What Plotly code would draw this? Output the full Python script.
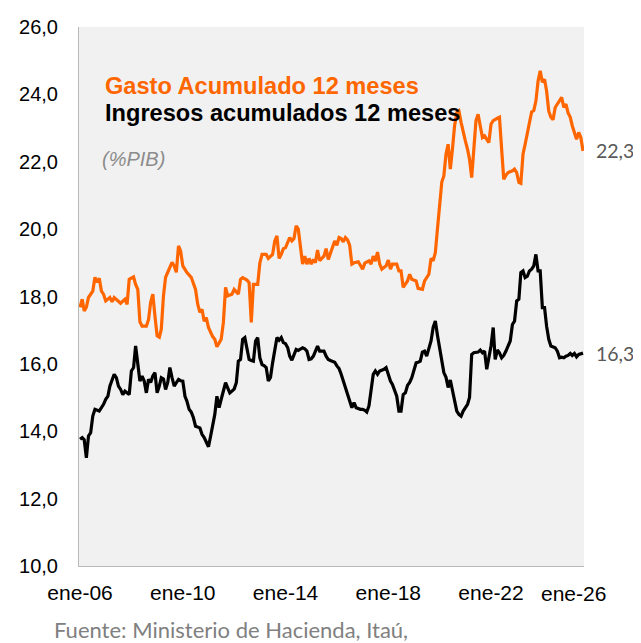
import plotly.graph_objects as go

# Meses transcurridos desde ene-06 (0 = enero 2006) y valores en % del PIB
gasto_mes = [0, 1, 2, 3, 4, 6, 7, 8, 9, 10, 11, 12, 14, 15, 16, 18, 19, 21, 22, 23, 25, 26, 27, 28, 29,
             31, 32, 33, 34, 35, 36, 37, 38, 39, 40, 41, 43, 44, 45, 46, 47, 48, 50, 52, 54, 55, 56, 57,
             58, 59, 60, 62, 63, 64, 66, 67, 68, 69, 71, 72, 74, 75, 76, 78, 79, 80, 81, 83, 84, 85, 87,
             88, 90, 91, 92, 93, 94, 95, 96, 98, 99, 100, 101, 102, 103, 104, 105, 106, 107, 108, 109,
             110, 111, 112, 114, 115, 116, 118, 119, 120, 121, 122, 123, 124, 125, 126, 127, 128, 130,
             132, 133, 135, 136, 137, 138, 139, 140, 141, 143, 144, 145, 146, 148, 149, 150, 151, 153,
             154, 155, 157, 158, 160, 161, 163, 164, 165, 166, 167, 168, 169, 170, 171, 172, 173, 174,
             175, 176, 177, 178, 179, 180, 181, 182, 183, 184, 185, 186, 187, 188, 189, 190, 191, 192,
             193, 195, 196, 197, 198, 199, 200, 202, 203, 204, 205, 206, 207, 208, 209, 210, 211, 212,
             213, 214, 215, 216, 217, 218, 219, 220, 221, 222, 223, 225, 226, 227, 228, 229, 230, 231,
             232, 233, 234, 235]
gasto_val = [17.68, 17.92, 17.57, 17.68, 17.97, 18.16, 18.57, 18.42, 18.54, 18.16, 18.07, 17.87, 17.97,
             17.84, 17.97, 17.87, 17.80, 17.92, 17.77, 18.51, 18.58, 18.36, 18.21, 17.25, 17.12, 17.12,
             17.32, 17.83, 18.07, 17.42, 16.83, 16.79, 17.03, 18.02, 18.57, 18.72, 19.01, 18.91, 18.72,
             19.50, 19.35, 18.91, 18.71, 18.57, 18.21, 17.77, 17.53, 17.62, 17.27, 17.37, 17.08, 16.81,
             16.73, 16.51, 16.73, 17.23, 18.27, 18.02, 18.07, 18.21, 18.07, 18.51, 18.56, 18.49, 18.41,
             17.23, 18.36, 18.36, 19.00, 19.25, 19.25, 19.13, 19.25, 19.65, 19.80, 19.13, 19.25, 19.42,
             19.45, 19.75, 19.65, 19.72, 20.10, 20.00, 19.45, 18.96, 19.20, 18.96, 19.13, 18.96, 19.10,
             19.00, 19.38, 19.06, 19.20, 19.42, 19.10, 19.50, 19.65, 19.52, 19.75, 19.72, 19.62, 19.75,
             19.68, 19.52, 18.96, 19.00, 19.03, 18.81, 18.99, 19.06, 18.96, 19.20, 19.05, 19.32, 18.96,
             18.81, 18.91, 19.08, 18.81, 18.96, 18.96, 18.76, 18.76, 18.27, 18.46, 18.66, 18.51, 18.46,
             18.24, 18.21, 18.46, 18.66, 19.13, 19.06, 19.30, 20.00, 20.80, 21.40, 21.58, 22.23, 22.52,
             21.78, 22.37, 23.07, 23.46, 23.51, 23.17, 22.87, 22.62, 22.37, 22.08, 21.53, 22.37, 23.22,
             23.41, 23.07, 22.72, 22.77, 22.67, 22.57, 23.12, 23.22, 23.29, 23.32, 22.37, 21.48, 21.60,
             21.68, 21.73, 21.78, 21.68, 21.39, 21.36, 22.23, 22.52, 22.82, 23.22, 23.48, 23.52, 23.80,
             24.40, 24.70, 24.36, 24.45, 24.10, 23.50, 23.32, 23.25, 23.61, 23.71, 23.91, 23.61, 23.71,
             23.45, 23.32, 23.07, 22.82, 22.67, 22.87, 22.72, 22.32]

ingresos_mes = [0, 1, 2, 3, 4, 5, 6, 7, 9, 11, 12, 13, 14, 16, 17, 18, 19, 20, 21, 22, 23, 24, 25, 26,
                27, 28, 29, 30, 31, 32, 33, 34, 35, 36, 37, 38, 39, 40, 41, 42, 43, 44, 45, 46, 47, 48,
                49, 50, 51, 52, 53, 54, 56, 57, 58, 59, 60, 61, 62, 63, 64, 65, 66, 67, 68, 69, 70, 71,
                72, 73, 74, 75, 76, 77, 78, 79, 80, 81, 82, 83, 84, 85, 86, 87, 88, 89, 90, 91, 92, 93,
                94, 95, 96, 97, 98, 99, 100, 101, 102, 103, 104, 105, 106, 107, 108, 109, 110, 111, 112,
                114, 115, 116, 117, 118, 119, 120, 121, 122, 123, 124, 125, 126, 127, 128, 129, 131, 132,
                133, 134, 135, 136, 137, 138, 139, 140, 142, 143, 144, 145, 146, 147, 148, 149, 150, 151,
                152, 153, 154, 155, 156, 157, 158, 159, 160, 161, 162, 163, 164, 165, 166, 167, 168, 169,
                170, 171, 172, 173, 174, 175, 176, 177, 178, 179, 180, 181, 182, 183, 184, 185, 186, 187,
                188, 189, 190, 191, 192, 193, 194, 195, 196, 197, 198, 199, 200, 201, 202, 203, 204, 205,
                206, 207, 208, 209, 210, 211, 212, 213, 214, 215, 216, 217, 218, 219, 220, 221, 222, 223,
                224, 225, 226, 227, 228, 229, 230, 231, 232, 233, 234, 235]
ingresos_val = [13.76, 13.81, 13.75, 13.21, 13.86, 13.96, 14.45, 14.65, 14.60, 14.80, 14.95, 15.04, 15.34,
                15.69, 15.59, 15.34, 15.24, 15.09, 15.19, 15.15, 15.09, 15.79, 15.89, 16.53, 15.94, 15.49,
                15.64, 15.49, 15.14, 15.54, 15.45, 15.64, 15.74, 15.14, 15.34, 15.59, 15.55, 15.24, 15.45,
                15.89, 15.59, 15.34, 15.44, 15.54, 15.50, 15.49, 15.04, 14.89, 14.65, 14.57, 14.40, 14.15,
                14.10, 13.91, 13.81, 13.66, 13.54, 13.86, 14.20, 14.50, 15.04, 14.70, 14.95, 15.19, 15.44,
                15.29, 15.14, 15.19, 15.25, 15.44, 16.08, 16.13, 16.73, 16.78, 16.48, 16.13, 16.10, 16.08,
                16.68, 16.78, 16.18, 15.98, 15.95, 15.89, 15.49, 15.60, 16.03, 16.38, 16.78, 16.70, 16.78,
                16.63, 16.60, 16.48, 16.23, 16.11, 16.28, 16.43, 16.40, 16.43, 16.48, 16.45, 16.38, 16.13,
                16.15, 16.23, 16.38, 16.53, 16.38, 16.38, 16.23, 16.13, 16.10, 16.08, 16.05, 15.94, 15.86,
                15.70, 15.49, 15.34, 15.14, 14.95, 14.70, 14.85, 14.70, 14.65, 14.65, 14.62, 14.57, 14.75,
                15.24, 15.69, 15.79, 15.69, 15.79, 15.84, 15.89, 15.69, 15.49, 15.39, 15.20, 15.04, 14.60,
                14.60, 15.09, 15.14, 15.36, 15.45, 15.59, 15.84, 16.03, 16.05, 16.08, 16.35, 16.38, 16.23,
                16.43, 16.68, 17.08, 17.27, 16.85, 16.43, 16.03, 15.74, 15.60, 15.30, 15.52, 15.24, 14.95,
                14.60, 14.50, 14.45, 14.60, 14.70, 14.80, 15.00, 16.28, 16.33, 16.35, 16.35, 16.41, 16.33,
                16.38, 15.84, 16.18, 16.53, 17.08, 16.13, 16.41, 16.33, 16.18, 16.25, 16.38, 16.53, 16.68,
                17.17, 17.27, 17.87, 17.92, 18.71, 18.76, 18.56, 18.60, 18.76, 18.81, 18.91, 19.25, 18.76,
                18.76, 17.67, 17.67, 17.12, 16.73, 16.53, 16.50, 16.48, 16.38, 16.18, 16.20, 16.18, 16.23,
                16.25, 16.31, 16.25, 16.31, 16.21, 16.28, 16.31, 16.32]

tick_fechas = ["2006-01-01", "2010-01-01", "2014-01-01", "2018-01-01", "2022-01-01"]
tick_textos = ["ene-06", "ene-10", "ene-14", "ene-18", "ene-22"]
etiqueta_ultima = "ene-26"

titulo_gasto = "Gasto Acumulado 12 meses"
titulo_ingresos = "Ingresos acumulados 12 meses"
unidad = "(%PIB)"
fuente = "Fuente: Ministerio de Hacienda, Itaú,"

NARANJA = "#FF6600"


def a_fecha(m):
    return f"{2006 + m // 12}-{m % 12 + 1:02d}-01"


def fmt(v):
    return f"{v:.1f}".replace(".", ",")


gasto_x = [a_fecha(m) for m in gasto_mes]
ingresos_x = [a_fecha(m) for m in ingresos_mes]

fig = go.Figure()
fig.add_trace(go.Scatter(x=gasto_x, y=gasto_val, mode="lines",
                         line=dict(color=NARANJA, width=3.2), name=titulo_gasto))
fig.add_trace(go.Scatter(x=ingresos_x, y=ingresos_val, mode="lines",
                         line=dict(color="#000000", width=3.2), name=titulo_ingresos))

AX_FONT = "Liberation Sans, Arial, sans-serif"

# The page body adds an 8px offset, so the figure is 8px smaller on each axis.
fig.update_layout(
    width=633, height=635,
    margin=dict(l=71, r=57, t=19, b=77, autoexpand=False),
    paper_bgcolor="white", plot_bgcolor="#f1f1f1",
    showlegend=False, separators=",.",
    xaxis=dict(type="date", range=["2005-12-17", "2025-08-15"], automargin=False,
               tickvals=tick_fechas, ticktext=tick_textos,
               showgrid=False, zeroline=False, showline=True, linecolor="#b9b9b9", linewidth=1,
               ticks="outside", ticklen=8, tickcolor="rgba(0,0,0,0)",
               tickfont=dict(family=AX_FONT, size=21, color="#000000")),
    yaxis=dict(range=[10, 26], tick0=10, dtick=2, tickformat=".1f", automargin=False,
               showgrid=False, zeroline=False, showline=True, linecolor="#b9b9b9", linewidth=1,
               ticks="outside", ticklen=16, tickcolor="rgba(0,0,0,0)",
               tickfont=dict(family=AX_FONT, size=20, color="#000000")),
)

ann = [
    dict(text=f"<b>{titulo_gasto}</b>", xref="paper", yref="paper", x=0.0475, y=0.8905,
         xanchor="left", yanchor="middle", showarrow=False,
         font=dict(family=AX_FONT, size=23.6, color=NARANJA)),
    dict(text=f"<b>{titulo_ingresos}</b>", xref="paper", yref="paper", x=0.0475, y=0.8404,
         xanchor="left", yanchor="middle", showarrow=False,
         font=dict(family=AX_FONT, size=23.6, color="#000000")),
    dict(text=f"<i>{unidad}</i>", xref="paper", yref="paper", x=0.041, y=0.755,
         xanchor="left", yanchor="middle", showarrow=False,
         font=dict(family=AX_FONT, size=20, color="#8c8c8c")),
    dict(text=fmt(gasto_val[-1]), xref="x", yref="y", x=gasto_x[-1], y=gasto_val[-1],
         xanchor="left", yanchor="middle", xshift=11, showarrow=False,
         font=dict(family="Lato, sans-serif", size=19.5, color="#595959")),
    dict(text=fmt(ingresos_val[-1]), xref="x", yref="y", x=ingresos_x[-1], y=ingresos_val[-1],
         xanchor="left", yanchor="middle", xshift=11, showarrow=False,
         font=dict(family="Lato, sans-serif", size=19.5, color="#595959")),
    dict(text=etiqueta_ultima, xref="paper", yref="paper", x=0.98, y=0, yshift=-27,
         xanchor="center", yanchor="middle", showarrow=False,
         font=dict(family=AX_FONT, size=21, color="#000000")),
    dict(text=fuente, xref="paper", yref="paper", x=-0.053, y=-0.1187,
         xanchor="left", yanchor="middle", showarrow=False,
         font=dict(family="Lato, sans-serif", size=22, color="#808080")),
]
fig.update_layout(annotations=ann)

fig.write_html("out.html")
